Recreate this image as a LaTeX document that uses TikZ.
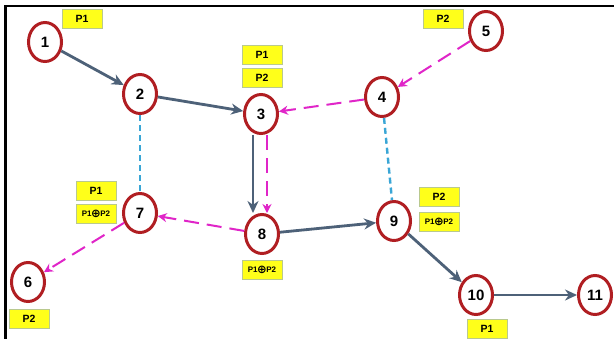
\documentclass[tikz,border=0pt]{standalone}
\usepackage{fontspec}
\setmainfont{Liberation Sans}
\newfontfamily\symfont{DejaVu Sans}
\usetikzlibrary{shapes.geometric,arrows.meta}
\definecolor{nodered}{HTML}{B01E22}
\definecolor{slate}{HTML}{4D6178}
\definecolor{mag}{HTML}{E025C8}
\definecolor{cyanline}{HTML}{3AA6D6}
\definecolor{lblborder}{HTML}{B9C98E}
\definecolor{lblfill}{HTML}{FFFF1A}
\tikzset{
  vtx/.style={ellipse, draw=nodered, line width=3pt, fill=white, minimum width=33pt, minimum height=39pt, inner sep=0pt, font=\bfseries\fontsize{15}{15}\selectfont},
  lbl/.style={rectangle, draw=lblborder, line width=0.8pt, fill=lblfill, minimum width=40pt, minimum height=19pt, inner sep=0pt, font=\bfseries\fontsize{10.5}{10.5}\selectfont},
  lblx/.style={lbl, font=\bfseries\fontsize{8}{8}\selectfont},
  solidarr/.style={draw=slate, line width=2.8pt, -{Stealth[length=12pt,width=11pt]}},
  magarr/.style={draw=mag, line width=2pt, dash pattern=on 15pt off 8pt, -{Stealth[length=9pt,width=9pt]}},
  cyanln/.style={draw=cyanline, line width=2.4pt, dash pattern=on 6pt off 4pt}
}
\newcommand{\xorlbl}{P1\kern-0.5pt{\symfont\bfseries\fontsize{11.5}{8}\selectfont\raisebox{-1pt}{⊕}}\kern-0.5pt P2}
\begin{document}
\begin{tikzpicture}[x=1pt,y=-1pt]
\useasboundingbox (0,0) rectangle (614,338);
\fill[white] (0,0) rectangle (614,338);
\draw[line width=2.6pt, line cap=rect] (5.5,338) -- (5.5,6) -- (614,6);
% nodes
\node[vtx] (n1) at (45,42) {1};
\node[vtx] (n2) at (140,94) {2};
\node[vtx] (n3) at (261,114) {3};
\node[vtx] (n4) at (382,97) {4};
\node[vtx] (n5) at (486,31) {5};
\node[vtx] (n6) at (28,282) {6};
\node[vtx] (n7) at (140,213) {7};
\node[vtx] (n8) at (262,234) {8};
\node[vtx] (n9) at (394,221) {9};
\node[vtx] (n10) at (476,295) {10};
\node[vtx] (n11) at (595,295) {11};
% labels
\node[lbl] (l1) at (82,19) {P1};
\node[lbl] (l3a) at (262,55) {P1};
\node[lbl] (l3b) at (262,78) {P2};
\node[lbl] (l5) at (443,19) {P2};
\node[lbl] (l7a) at (96,191) {P1};
\node[lblx] (l7b) at (96,214) {\xorlbl};
\node[lbl] (l6) at (29,319) {P2};
\node[lblx] (l8) at (262,270) {\xorlbl};
\node[lbl] (l9a) at (439,197) {P2};
\node[lblx] (l9b) at (439,222) {\xorlbl};
\node[lbl] (l10) at (487,329) {P1};
% connectors
\draw[cyanln] (n2) -- (n7);
\draw[cyanln] (n4) -- (n9);
\draw[solidarr] (n1) -- (n2);
\draw[solidarr] (n2) -- (n3);
\draw[solidarr] ([xshift=-8pt]n3.south) -- ([xshift=-9pt]n8.north);
\draw[magarr] ([xshift=6pt]n3.south) -- ([xshift=5pt]n8.north);
\draw[solidarr] (n8) -- (n9);
\draw[solidarr] (n9) -- (n10);
\draw[solidarr] (n10) -- (n11);
\draw[magarr] (n5) -- (n4);
\draw[magarr] (n4) -- (n3);
\draw[magarr] (n8) -- (n7);
\draw[magarr] (n7) -- (n6);
\end{tikzpicture}
\end{document}
